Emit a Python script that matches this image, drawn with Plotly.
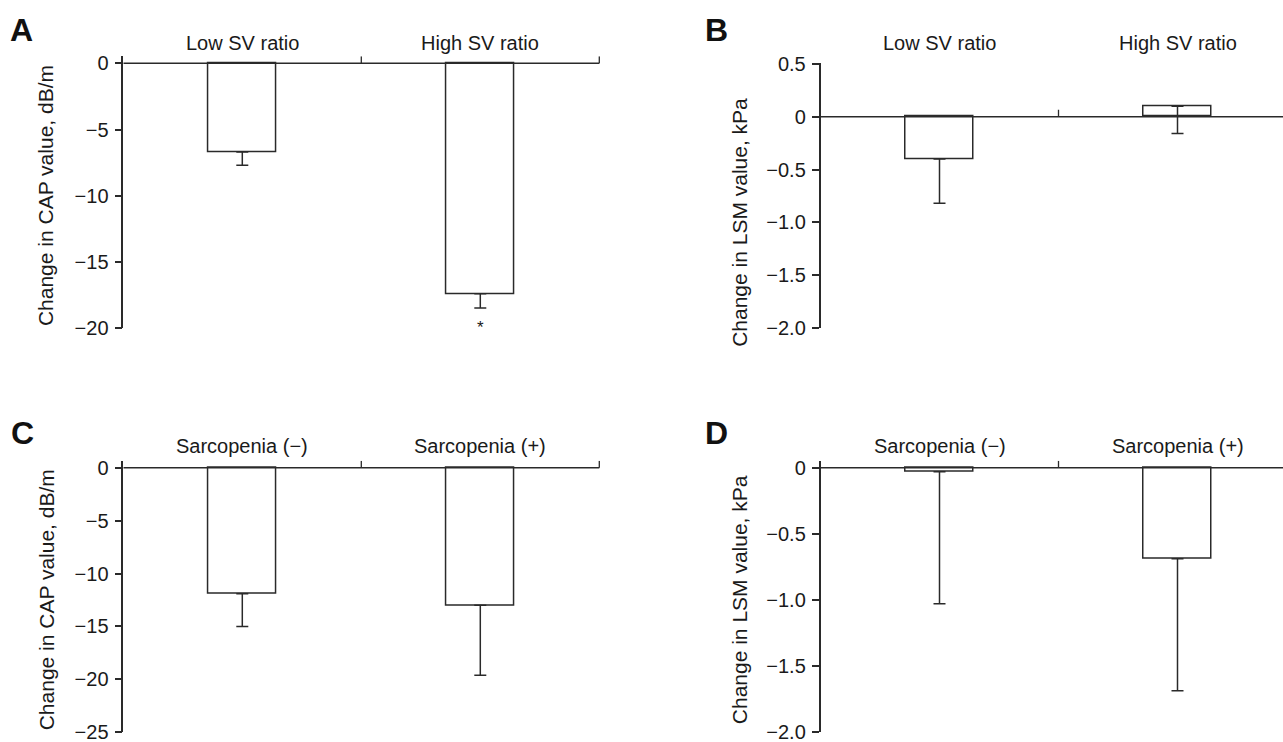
import plotly.graph_objects as go

# ---------------- data ----------------
sv_categories = ["Low SV ratio", "High SV ratio"]
sarc_categories = ["Sarcopenia (\u2212)", "Sarcopenia (+)"]

cap_sv_values = [-6.7, -17.4]
cap_sv_err = [1.0, 1.07]

lsm_sv_values = [-0.40, 0.10]
lsm_sv_err = [0.42, 0.26]

cap_sarc_values = [-11.9, -13.0]
cap_sarc_err = [3.1, 6.6]

lsm_sarc_values = [-0.03, -0.69]
lsm_sarc_err = [1.0, 1.0]

cap_sv_ticks = [0, -5, -10, -15, -20]
cap_sv_ticktext = ["0", "\u22125", "\u221210", "\u221215", "\u221220"]
lsm_sv_ticks = [0.5, 0, -0.5, -1.0, -1.5, -2.0]
lsm_sv_ticktext = ["0.5", "0", "\u22120.5", "\u22121.0", "\u22121.5", "\u22122.0"]
cap_sarc_ticks = [0, -5, -10, -15, -20, -25]
cap_sarc_ticktext = ["0", "\u22125", "\u221210", "\u221215", "\u221220", "\u221225"]
lsm_sarc_ticks = [0, -0.5, -1.0, -1.5, -2.0]
lsm_sarc_ticktext = ["0", "\u22120.5", "\u22121.0", "\u22121.5", "\u22122.0"]

cap_title = "Change in CAP value, dB/m"
lsm_title = "Change in LSM value, kPa"
significance = ["", "*"]

# ---------------- layout helpers ----------------
W, H = 1283, 742
INK = "#2a2a2a"
TXT = "#1a1a1a"
FONT = "Liberation Sans, Arial, sans-serif"
CAT_W = 238.0  # px per category

panels = [
    dict(letter="A", cats=sv_categories, vals=cap_sv_values, errs=cap_sv_err,
         ticks=cap_sv_ticks, ticktext=cap_sv_ticktext, title=cap_title,
         ymin=-20, ymin_px=328.3, zero_px=63.3, top_px=56.3, left_px=123.3, right_px=601.5,
         label_px=42.5, letter_xy=(8, 30)),
    dict(letter="B", cats=sv_categories, vals=lsm_sv_values, errs=lsm_sv_err,
         ticks=lsm_sv_ticks, ticktext=lsm_sv_ticktext, title=lsm_title,
         ymin=-2.0, ymin_px=328.0, zero_px=116.7, top_px=63.3, left_px=820.5, right_px=1283,
         label_px=42.5, letter_xy=(703, 30)),
    dict(letter="C", cats=sarc_categories, vals=cap_sarc_values, errs=cap_sarc_err,
         ticks=cap_sarc_ticks, ticktext=cap_sarc_ticktext, title=cap_title,
         ymin=-25, ymin_px=732.3, zero_px=467.7, top_px=460.7, left_px=123.3, right_px=601.5,
         label_px=446, letter_xy=(9, 433)),
    dict(letter="D", cats=sarc_categories, vals=lsm_sarc_values, errs=lsm_sarc_err,
         ticks=lsm_sarc_ticks, ticktext=lsm_sarc_ticktext, title=lsm_title,
         ymin=-2.0, ymin_px=731.7, zero_px=467.7, top_px=460.7, left_px=820.5, right_px=1283,
         label_px=446, letter_xy=(703, 433)),
]

fig = go.Figure()
shapes = []
annotations = []
xcenters = [0.5, 1.5]

for i, p in enumerate(panels):
    n = i + 1
    xa = "x" if n == 1 else f"x{n}"
    ya = "y" if n == 1 else f"y{n}"
    xkey = "xaxis" if n == 1 else f"xaxis{n}"
    ykey = "yaxis" if n == 1 else f"yaxis{n}"

    ppu = (p["ymin_px"] - p["zero_px"]) / (0 - p["ymin"])
    ymax = (p["zero_px"] - p["top_px"]) / ppu
    xmax = (p["right_px"] - p["left_px"]) / CAT_W

    plus = [0 for _ in p["vals"]]
    fig.add_trace(go.Bar(
        x=xcenters, y=p["vals"], width=0.286,
        marker=dict(color="white", line=dict(color=INK, width=1.5)),
        error_y=dict(type="data", symmetric=False, array=plus, arrayminus=p["errs"],
                     color=INK, thickness=1.5, width=6),
        xaxis=xa, yaxis=ya, showlegend=False, hoverinfo="skip",
    ))

    fig.layout[xkey] = dict(
        domain=[p["left_px"] / W, p["right_px"] / W], range=[0, xmax],
        showline=False, showgrid=False, zeroline=False, showticklabels=False,
        ticks="", anchor=ya, fixedrange=True, automargin=False,
    )
    fig.layout[ykey] = dict(
        domain=[1 - p["ymin_px"] / H, 1 - p["top_px"] / H], range=[p["ymin"], ymax],
        showline=True, linecolor=INK, linewidth=1.5, mirror=False,
        showgrid=False, zeroline=False,
        tickmode="array", tickvals=p["ticks"], ticktext=p["ticktext"],
        ticks="outside", ticklen=7, tickwidth=1.5, tickcolor=INK,
        tickfont=dict(family=FONT, size=20, color=TXT),
        ticklabelstandoff=2, ticklabeloverflow="allow",
        anchor=xa, fixedrange=True, automargin=False,
    )

    # zero baseline
    shapes.append(dict(type="line", xref=xa, yref=ya, x0=0, x1=min(2, xmax), y0=0, y1=0,
                       line=dict(color=INK, width=1.5), layer="above"))
    # category boundary ticks (pointing up)
    for bx in [1, 2]:
        if bx <= xmax:
            shapes.append(dict(type="line", xref=xa, yref=ya, x0=bx, x1=bx,
                               ysizemode="pixel", yanchor=0, y0=0, y1=7,
                               line=dict(color=INK, width=1.3), layer="above"))

    # category labels
    for cx, lab in zip(xcenters, p["cats"]):
        annotations.append(dict(text=lab, xref=xa, yref="paper", x=cx, y=1 - p["label_px"] / H,
                                xanchor="center", yanchor="middle",
                                showarrow=False,
                                font=dict(family=FONT, size=20, color=TXT)))

    # y-axis title
    annotations.append(dict(text=p["title"], xref=f"{xa} domain", yref="paper",
                            x=0, y=1 - (p["ymin_px"] + p["zero_px"]) / 2 / H,
                            xanchor="center", yanchor="middle",
                            xshift=-77 if p["left_px"] < 400 else -81,
                            textangle=-90, showarrow=False,
                            font=dict(family=FONT, size=21, color=TXT)))

    # panel letter
    lx, ly = p["letter_xy"]
    annotations.append(dict(text=f"<b>{p['letter']}</b>", xref="paper", yref="paper",
                            x=lx / W, y=1 - ly / H, xanchor="left", yanchor="middle",
                            showarrow=False,
                            font=dict(family="Liberation Sans Narrow, Liberation Sans, Arial", size=32, color="#111")))

    # significance marks (panel A only)
    if p["letter"] == "A":
        for cx, v, e, s in zip(xcenters, p["vals"], p["errs"], significance):
            if s:
                annotations.append(dict(text=s, xref=xa, yref=ya, x=cx, y=v - e,
                                        xanchor="center", yanchor="top", yshift=-8,
                                        showarrow=False,
                                        font=dict(family=FONT, size=17, color=TXT)))

fig.update_layout(
    width=W, height=H, margin=dict(l=0, r=0, t=0, b=0, autoexpand=False),
    paper_bgcolor="white", plot_bgcolor="white",
    shapes=shapes, annotations=annotations, bargap=0,
)

fig.write_html("out.html", config={"displayModeBar": False},
               post_script="document.body.style.margin='0';")
